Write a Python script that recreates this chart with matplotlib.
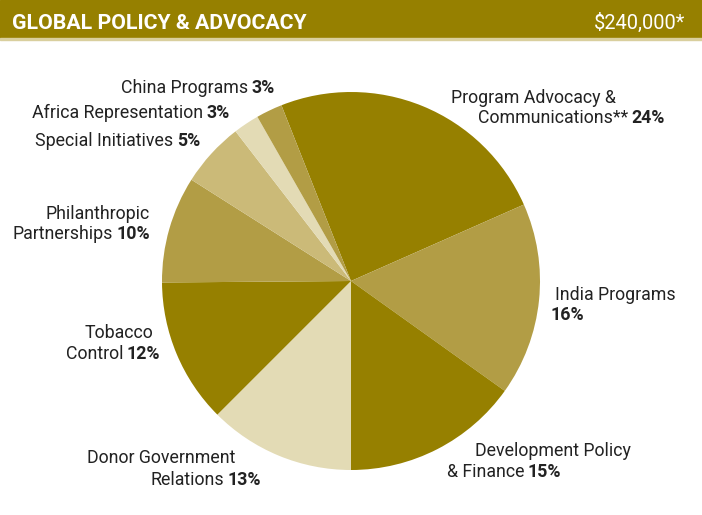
import matplotlib.pyplot as plt
from matplotlib.patches import Rectangle

# slice data, clockwise from the top-left edge (dollars out of $240,000)
categories = ['Program Advocacy & Communications', 'India Programs',
              'Development Policy & Finance', 'Donor Government Relations',
              'Tobacco Control', 'Philanthropic Partnerships',
              'Special Initiatives', 'Africa Representation', 'China Programs']
values = [58500, 39600, 36300, 30000, 29700, 21900, 13300, 5300, 5400]
pct_labels = ['24%', '16%', '15%', '13%', '12%', '10%', '5%', '3%', '3%']
title = 'GLOBAL POLICY & ADVOCACY'
total_label = '$240,000*'

DARK = '#968000'
MID = '#b29d45'
PALE = '#cbba78'
LIGHT = '#e3dbb5'
colors = [DARK, MID, DARK, LIGHT, DARK, MID, PALE, LIGHT, MID]

W, H = 702, 515
fig = plt.figure(figsize=(W / 100, H / 100), dpi=100)
fig.patch.set_facecolor('white')
renderer = fig.canvas.get_renderer()


def fit_width(t, target_px):
    # size a header text so it spans the same width as in the original
    w = t.get_window_extent(renderer).width
    t.set_fontsize(t.get_fontsize() * target_px / w)


# header bar
fig.patches.append(Rectangle((0, 1 - 38 / H), 1, 38 / H, transform=fig.transFigure,
                             color=DARK, zorder=0))
fig.patches.append(Rectangle((0, 1 - 40 / H), 1, 2 / H, transform=fig.transFigure,
                             color='#d9cf9e', zorder=0))
head = fig.text(12 / W, 1 - 29 / H, title, color='white', fontsize=16, fontweight='bold',
                family=['Roboto', 'DejaVu Sans'], va='baseline')
fit_width(head, 295)
tot = fig.text(685 / W, 1 - 29 / H, total_label, color='white', fontsize=15,
               family=['Roboto', 'DejaVu Sans'], va='baseline', ha='right')
fit_width(tot, 91)

# pie: centre (351, 281) px, radius 189 px
cx, cy, r = 351, 281, 189
ax = fig.add_axes([(cx - r) / W, 1 - (cy + r) / H, 2 * r / W, 2 * r / H])
ax.pie(values, colors=colors, startangle=111.6, counterclock=False,
       wedgeprops=dict(linewidth=0))
ax.set_xlim(-1, 1)
ax.set_ylim(-1, 1)
ax.axis('off')

FONT = ['Roboto', 'DejaVu Sans']
FS = 12.8
TXT = '#222222'
GAP = 2.5


def label(x, y, normal, bold, ha):
    pos = (x / W, 1 - y / H)
    if ha == 'left':
        if normal:
            t = fig.text(*pos, normal, ha='left', va='baseline', family=FONT,
                         fontsize=FS, color=TXT)
            if bold:
                ax.annotate(bold, xy=(1, 0), xycoords=t, xytext=(GAP, 0),
                            textcoords='offset points', ha='left', va='bottom',
                            family=FONT, fontsize=FS, fontweight='bold', color=TXT,
                            annotation_clip=False)
        else:
            fig.text(*pos, bold, ha='left', va='baseline', family=FONT,
                     fontsize=FS, fontweight='bold', color=TXT)
    else:
        if bold:
            b = fig.text(*pos, bold, ha='right', va='baseline', family=FONT,
                         fontsize=FS, fontweight='bold', color=TXT)
            if normal:
                ax.annotate(normal, xy=(0, 0), xycoords=b, xytext=(-GAP, 0),
                            textcoords='offset points', ha='right', va='bottom',
                            family=FONT, fontsize=FS, color=TXT,
                            annotation_clip=False)
        else:
            fig.text(*pos, normal, ha='right', va='baseline', family=FONT,
                     fontsize=FS, color=TXT)


label(451, 103, 'Program Advocacy &', '', 'left')
label(478, 123, 'Communications**', pct_labels[0], 'left')
label(555, 300, 'India Programs', '', 'left')
label(551, 320, '', pct_labels[1], 'left')
label(475, 456, 'Development Policy', '', 'left')
label(447, 477, '& Finance', pct_labels[2], 'left')
label(235, 463, 'Donor Government', '', 'right')
label(261, 485, 'Relations', pct_labels[3], 'right')
label(153, 338, 'Tobacco', '', 'right')
label(160, 359, 'Control', pct_labels[4], 'right')
label(150, 219, 'Philanthropic', '', 'right')
label(150, 239, 'Partnerships', pct_labels[5], 'right')
label(200, 146, 'Special Initiatives', pct_labels[6], 'right')
label(230, 118, 'Africa Representation', pct_labels[7], 'right')
label(275, 93, 'China Programs', pct_labels[8], 'right')

fig.savefig('out.png', dpi=100)
